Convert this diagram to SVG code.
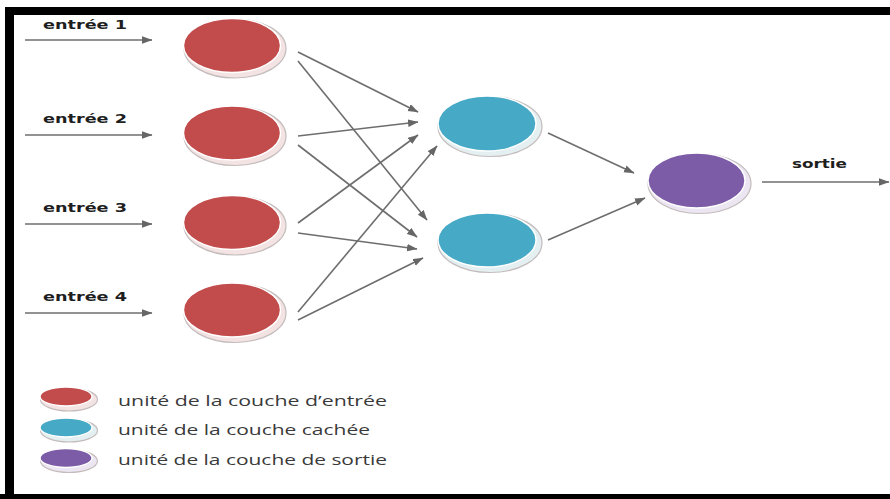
<svg xmlns="http://www.w3.org/2000/svg" width="890" height="499" viewBox="0 0 890 499">
  <defs>
    <marker id="arrow" markerUnits="userSpaceOnUse" markerWidth="11" markerHeight="8" refX="10" refY="3.75" orient="auto">
      <path d="M0,0 L10.5,3.75 L0,7.5 z" fill="#666666"/>
    </marker>
    <style>
      .frame { fill: #000000; }
      .edge { stroke: #6e6e6e; stroke-width: 1.6; fill: none; marker-end: url(#arrow); }
      .rim { stroke: #c4bcbc; stroke-width: 1.2; }
      .body { stroke: #ffffff; stroke-width: 1.4; }
      .in .body { fill: #c24b4b; }
      .in .rim { fill: #f3e3e3; }
      .hid .body { fill: #46a9c6; }
      .hid .rim { fill: #e4eff2; }
      .out .body { fill: #7c5ca6; }
      .out .rim { fill: #ece6f2; }
      .lbl { font-family: "DejaVu Sans", "Liberation Sans", sans-serif; font-weight: bold; font-size: 12.5px; fill: #1e1e1e; }
      .leg { font-family: "Open Sans", "Liberation Sans", sans-serif; font-size: 14px; fill: #3a3a3a; }
    </style>
  </defs>

  <rect width="890" height="499" fill="#ffffff"/>

  <!-- black frame: top, left and bottom bands -->
  <g id="frame">
    <rect class="frame" x="5" y="7" width="885" height="8"/>
    <rect class="frame" x="5" y="7" width="9" height="489"/>
    <rect class="frame" x="0" y="494" width="890" height="5"/>
  </g>

  <!-- connectors -->
  <g id="connectors">
    <line class="edge" x1="25" y1="40" x2="152" y2="40"/>
    <line class="edge" x1="25" y1="135" x2="152" y2="135"/>
    <line class="edge" x1="25" y1="224" x2="152" y2="224"/>
    <line class="edge" x1="25" y1="313" x2="152" y2="313"/>

    <line class="edge" x1="298" y1="52" x2="418" y2="112"/>
    <line class="edge" x1="298" y1="61" x2="427" y2="220"/>
    <line class="edge" x1="298" y1="136" x2="418" y2="122"/>
    <line class="edge" x1="298" y1="145" x2="417" y2="237"/>
    <line class="edge" x1="298" y1="223" x2="418" y2="135"/>
    <line class="edge" x1="298" y1="233" x2="417" y2="249"/>
    <line class="edge" x1="298" y1="312" x2="437" y2="146"/>
    <line class="edge" x1="298" y1="320" x2="423" y2="258"/>

    <line class="edge" x1="548" y1="133" x2="634" y2="173"/>
    <line class="edge" x1="548" y1="240" x2="645" y2="198"/>

    <line class="edge" x1="762" y1="182" x2="889" y2="182"/>
  </g>

  <!-- input labels -->
  <g id="labels">
    <text class="lbl" x="43" y="29" textLength="84" lengthAdjust="spacingAndGlyphs">entrée 1</text>
    <text class="lbl" x="43" y="123" textLength="84" lengthAdjust="spacingAndGlyphs">entrée 2</text>
    <text class="lbl" x="43" y="212" textLength="84" lengthAdjust="spacingAndGlyphs">entrée 3</text>
    <text class="lbl" x="43" y="301" textLength="84" lengthAdjust="spacingAndGlyphs">entrée 4</text>
    <text class="lbl" x="792" y="168" textLength="55" lengthAdjust="spacingAndGlyphs">sortie</text>
  </g>

  <!-- input layer -->
  <g id="in1" class="in">
    <ellipse class="rim" cx="235" cy="48.5" rx="51" ry="29.5"/>
    <ellipse class="body" cx="232" cy="45.5" rx="48.5" ry="27"/>
  </g>
  <g id="in2" class="in">
    <ellipse class="rim" cx="235" cy="136" rx="51" ry="29.5"/>
    <ellipse class="body" cx="232" cy="133" rx="48.5" ry="27"/>
  </g>
  <g id="in3" class="in">
    <ellipse class="rim" cx="235" cy="225.5" rx="51" ry="29.5"/>
    <ellipse class="body" cx="232" cy="222.5" rx="48.5" ry="27"/>
  </g>
  <g id="in4" class="in">
    <ellipse class="rim" cx="235" cy="313" rx="51" ry="29.5"/>
    <ellipse class="body" cx="232" cy="310" rx="48.5" ry="27"/>
  </g>

  <!-- hidden layer -->
  <g id="hid1" class="hid">
    <ellipse class="rim" cx="490" cy="126.5" rx="52" ry="30"/>
    <ellipse class="body" cx="487" cy="123.5" rx="49" ry="27.5"/>
  </g>
  <g id="hid2" class="hid">
    <ellipse class="rim" cx="490" cy="243" rx="52" ry="29.5"/>
    <ellipse class="body" cx="487" cy="240" rx="49" ry="27"/>
  </g>

  <!-- output layer -->
  <g id="out1" class="out">
    <ellipse class="rim" cx="699.5" cy="183.5" rx="51.5" ry="30"/>
    <ellipse class="body" cx="696.5" cy="180.5" rx="48.5" ry="27.5"/>
  </g>

  <!-- legend -->
  <g id="legend-in" class="in">
    <ellipse class="rim" cx="69" cy="399.5" rx="28.5" ry="11.5"/>
    <ellipse class="body" cx="66" cy="396.5" rx="26" ry="9.5"/>
    <text class="leg" x="118" y="405.5" textLength="269" lengthAdjust="spacingAndGlyphs">unité de la couche d’entrée</text>
  </g>
  <g id="legend-hid" class="hid">
    <ellipse class="rim" cx="69" cy="430.5" rx="28.5" ry="11.5"/>
    <ellipse class="body" cx="66" cy="427.5" rx="26" ry="9.5"/>
    <text class="leg" x="118" y="435" textLength="252" lengthAdjust="spacingAndGlyphs">unité de la couche cachée</text>
  </g>
  <g id="legend-out" class="out">
    <ellipse class="rim" cx="69" cy="461" rx="28.5" ry="11.5"/>
    <ellipse class="body" cx="66" cy="458" rx="26" ry="9.5"/>
    <text class="leg" x="118" y="465" textLength="269" lengthAdjust="spacingAndGlyphs">unité de la couche de sortie</text>
  </g>
</svg>
